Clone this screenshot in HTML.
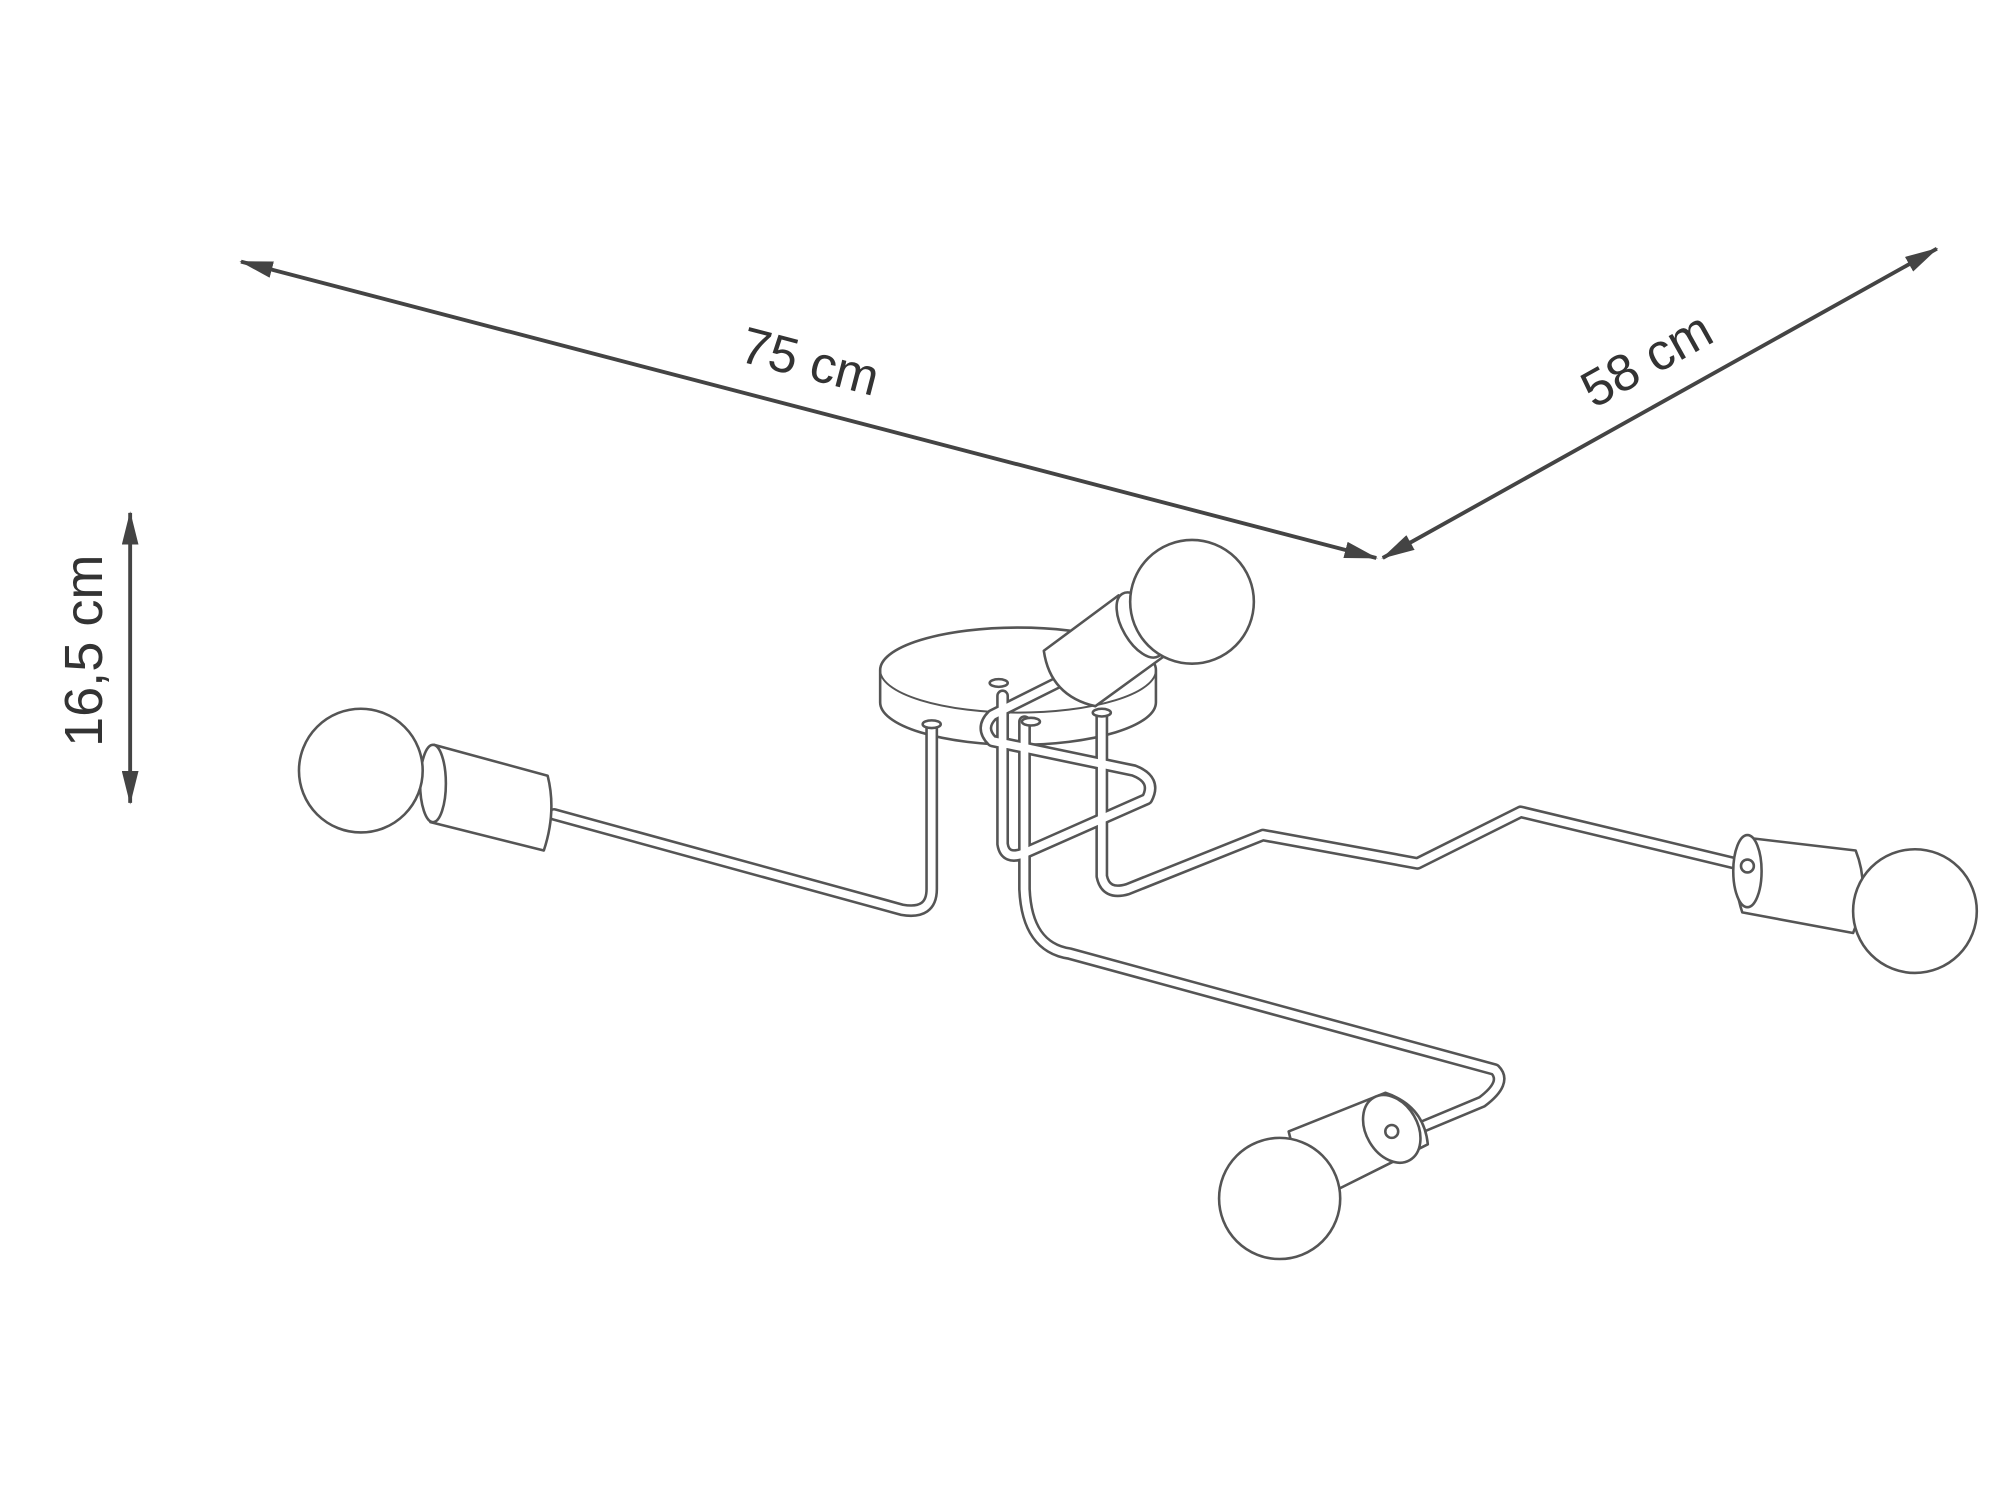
<!DOCTYPE html>
<html><head><meta charset="utf-8"><style>
html,body{margin:0;padding:0;background:#fff;width:2000px;height:1500px;overflow:hidden}
svg{display:block}
text{font-family:"Liberation Sans",sans-serif;fill:#333}
</style></head><body>
<svg width="2000" height="1500" viewBox="0 0 1552 1164" xmlns="http://www.w3.org/2000/svg">
<defs>
<marker id="ah2" viewBox="0 0 20 10" refX="19" refY="5" markerWidth="26" markerHeight="13" orient="auto-start-reverse" markerUnits="userSpaceOnUse" preserveAspectRatio="none">
<path d="M0,0 L20,5 L0,10 z" fill="#444"/></marker>
</defs>
<line x1="187" y1="203" x2="1068" y2="433" stroke="#444" stroke-width="3" marker-start="url(#ah2)" marker-end="url(#ah2)"/>
<line x1="1073" y1="433" x2="1503" y2="193" stroke="#444" stroke-width="3" marker-start="url(#ah2)" marker-end="url(#ah2)"/>
<line x1="101" y1="398" x2="101" y2="623" stroke="#444" stroke-width="3" marker-start="url(#ah2)" marker-end="url(#ah2)"/>
<text x="628" y="294" font-size="40" text-anchor="middle" transform="rotate(14.6 628 283)">75 cm</text>
<text x="1280" y="292" font-size="40" text-anchor="middle" transform="rotate(-29.2 1280 283)">58 cm</text>
<text x="72" y="512" font-size="42" text-anchor="middle" transform="rotate(-90 72 505)">16,5 cm</text>

<g fill="none" stroke-linecap="round" stroke-linejoin="round">
<path d="M683,520 A107,33 0 0 1 897,520 L897,545 A107,33 0 0 1 683,545 Z" fill="#fff" stroke="#555" stroke-width="2"/>
<path d="M683,520 A107,33 0 0 0 897,520" stroke="#555" stroke-width="1.5"/>
<g id="arms">
<path d="M723,565 L723,690 Q723,710 700,706 L430,632"/>
<path d="M855,555 L855,680 Q858,695 875,690 L980,648 L1100,670 L1180,630 L1355,672"/>
<path d="M795,560 L795,690 Q797,735 830,740 L1160,830 Q1170,840 1150,855 L1090,880"/>
<path d="M778,540 L778,655 Q780,668 795,662 L890,620 Q898,605 880,598 L770,575 Q760,565 770,555 L820,530"/>
</g>
<use href="#arms" stroke="#555" stroke-width="10"/>
<use href="#arms" stroke="#fff" stroke-width="6"/>
<g fill="#fff" stroke="#555" stroke-width="2">
<path d="M337,578 L425,602 Q432,630 422,660 L334,638 Q325,605 337,578 Z"/>
<ellipse cx="336" cy="608" rx="10" ry="30"/>
<path d="M1355,650 L1440,660 Q1452,690 1438,724 L1352,708 Q1342,678 1355,650 Z"/>
<ellipse cx="1356" cy="676" rx="11" ry="28"/>
<circle cx="1356" cy="672" r="5"/>
<path d="M1000,878 L1075,848 Q1105,858 1108,888 L1040,922 Q1008,915 1000,878 Z"/>
<ellipse cx="1080" cy="876" rx="20" ry="28" transform="rotate(-30 1080 876)"/>
<circle cx="1080" cy="878" r="5"/>
<path d="M810,505 L868,462 Q900,478 905,508 L850,548 Q815,540 810,505 Z"/>
<ellipse cx="885" cy="485" rx="14" ry="28" transform="rotate(-30 885 485)"/>
</g>
<g fill="#fff" stroke="#555" stroke-width="2">
<circle cx="280" cy="598" r="48"/>
<circle cx="925" cy="467" r="48"/>
<circle cx="1486" cy="707" r="48"/>
<circle cx="993" cy="930" r="47"/>
</g>
<g fill="#fff" stroke="#555" stroke-width="2">
<ellipse cx="723" cy="562" rx="7" ry="3"/>
<ellipse cx="855" cy="553" rx="7" ry="3"/>
<ellipse cx="775" cy="530" rx="7" ry="3"/>
<ellipse cx="800" cy="560" rx="7" ry="3"/>
</g>
</g>
</svg>
</body></html>
